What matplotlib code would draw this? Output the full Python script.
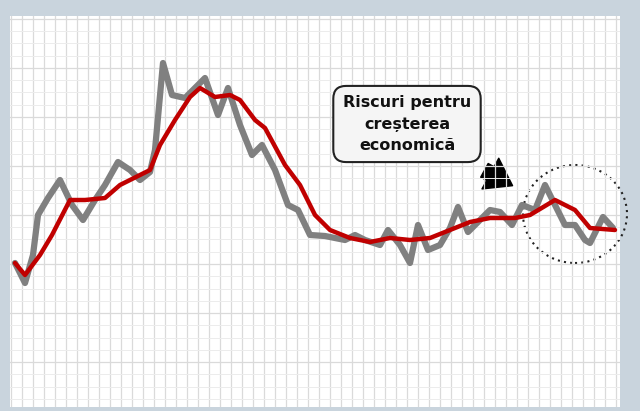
import matplotlib.pyplot as plt
from matplotlib.patches import Ellipse, FancyArrowPatch
from matplotlib.ticker import MultipleLocator

# time position and level (levels)
gray_t = [15, 25, 33, 38, 48, 60, 72, 83, 95, 105, 118, 130, 140, 150, 155, 163, 172, 185,
          198, 205, 218, 228, 240, 252, 262, 275, 288, 298, 310, 325, 345, 355, 365, 380,
          388, 400, 410, 418, 428, 440, 450, 458, 468, 478, 490, 500, 512, 522, 535, 545,
          555, 565, 575, 585, 590, 603, 613]
gray_v = [148, 128, 156, 196, 213, 231, 206, 191, 211, 226, 249, 241, 231, 239, 261, 348,
          316, 313, 326, 333, 296, 323, 286, 256, 266, 241, 206, 201, 176, 175, 171, 176,
          171, 166, 181, 166, 148, 186, 161, 166, 183, 204, 179, 189, 201, 199, 186, 206,
          201, 226, 206, 186, 186, 171, 168, 194, 183]

red_t = [15, 25, 40, 52, 70, 85, 105, 120, 140, 150, 160, 175, 190, 200, 215, 230, 240,
         255, 265, 285, 300, 315, 330, 350, 370, 390, 410, 430, 450, 470, 490, 515, 530,
         555, 575, 590, 615]
red_v = [148, 136, 156, 176, 211, 211, 213, 226, 236, 241, 266, 291, 314, 323, 314, 316,
         311, 291, 283, 246, 226, 196, 181, 173, 169, 173, 171, 173, 181, 189, 193, 193,
         196, 211, 201, 183, 181]

label = "Riscuri pentru\ncreșterea\neconomică"

fig = plt.figure(figsize=(6.4, 4.11), dpi=100)
fig.patch.set_facecolor('#c9d4dd')
ax = fig.add_axes([10/640, 4/411, 610/640, 391/411])
ax.set_facecolor('white')
ax.set_xlim(10, 620)
ax.set_ylim(4, 395)

ax.xaxis.set_major_locator(MultipleLocator(11))
ax.yaxis.set_major_locator(MultipleLocator(49))
ax.yaxis.set_minor_locator(MultipleLocator(12.25))
ax.grid(which='major', color='#dadada', lw=0.9)
ax.grid(which='minor', axis='y', color='#ececec', lw=0.7)
ax.tick_params(which='both', length=0, labelleft=False, labelbottom=False)
for s in ax.spines.values():
    s.set_visible(False)

ax.plot(gray_t, gray_v, color='#808080', lw=4.5, solid_joinstyle='round', solid_capstyle='round')
ax.plot(red_t, red_v, color='#c00000', lw=3.2, solid_joinstyle='round', solid_capstyle='round')

ax.text(407, 287, label, ha='center', va='center', fontsize=11.5, fontweight='bold',
        linespacing=1.5, color='#111111',
        bbox=dict(boxstyle='round,pad=0.6,rounding_size=0.8', fc='#f5f5f5', ec='#222222', lw=1.5))

ax.add_patch(FancyArrowPatch((482, 242), (515, 224),
                             arrowstyle='simple,head_width=1.8,head_length=1.3,tail_width=0.8',
                             mutation_scale=14, color='black'))
ax.add_patch(Ellipse((575, 197), 104, 98, fill=False, ls=(0, (1, 2)), lw=1.5,
                     ec='#222222', clip_on=False))

fig.savefig('out.png', dpi=100, facecolor=fig.get_facecolor())
